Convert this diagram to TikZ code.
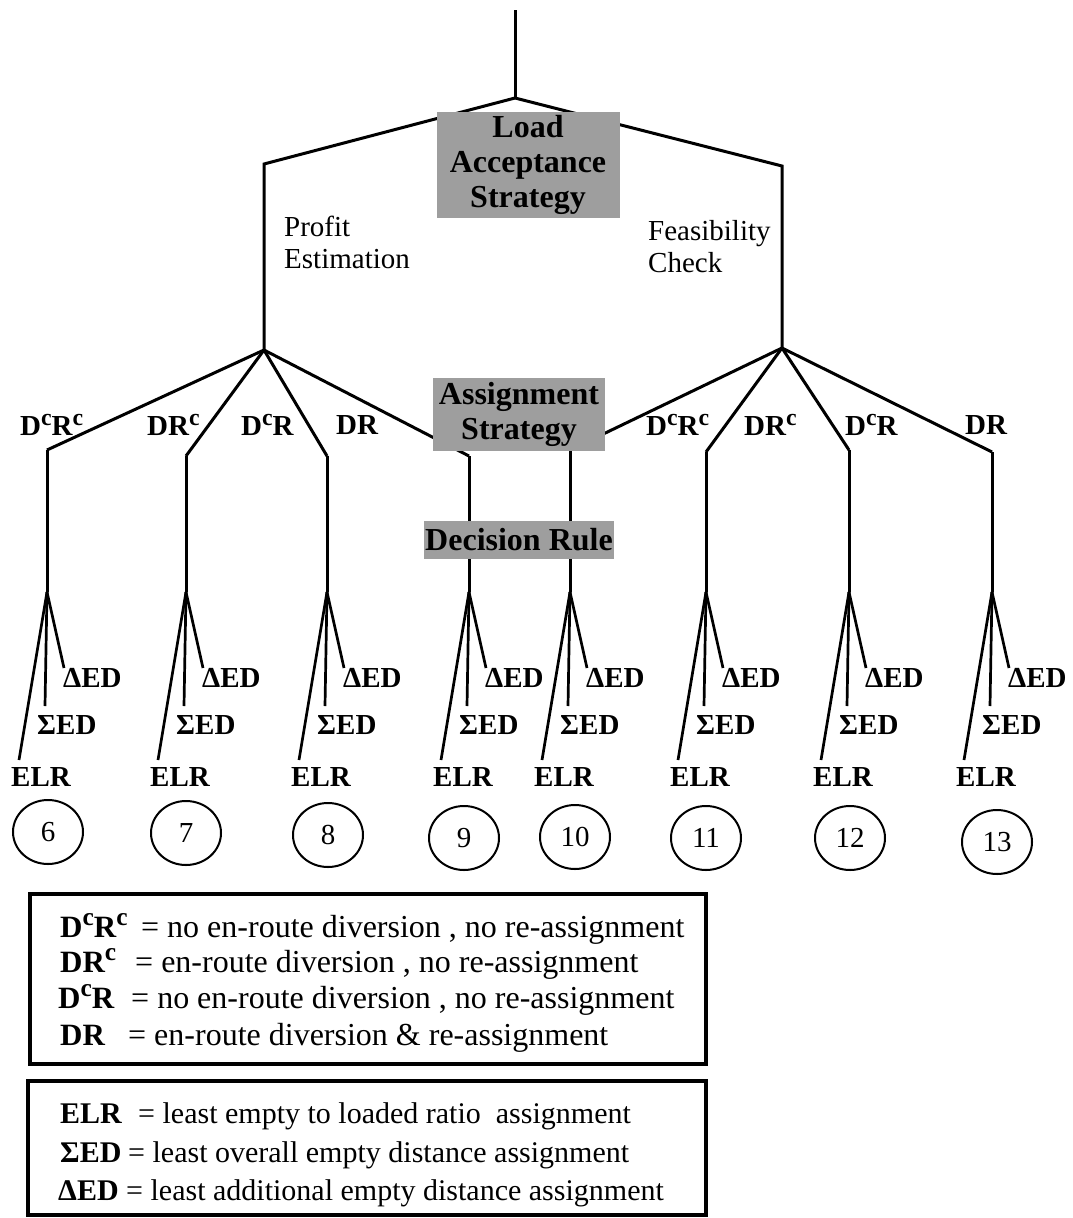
\documentclass[tikz,border=0pt]{standalone}
\usepackage{fontspec}
\usepackage{graphicx}
\setmainfont{Liberation Serif}
\usetikzlibrary{shapes.geometric}
% raised "c" for complement labels
\newcommand\supc{\raisebox{.36em}{\scalebox{.82}{c}}}
\newcommand\fsz[2]{\fontsize{#1}{#2}\selectfont}

\begin{document}
\begin{tikzpicture}[x=1pt,y=-1pt,
  branch/.style={line width=3pt, line join=miter},
  twig/.style={line width=2.7pt},
  greybox/.style={fill=black!38, inner sep=0pt, font=\bfseries\fsz{32}{35}, align=center},
  lbl/.style={inner sep=0pt, font=\fsz{29}{32}, align=left, anchor=north west},
  blbl/.style={inner sep=0pt, font=\bfseries\fsz{29}{32}, anchor=west},
  leaf/.style={draw, ellipse, line width=2pt, minimum width=70pt, minimum height=64pt, inner sep=0pt, font=\fsz{29}{32}},
  legend/.style={draw, line width=3.5pt, inner sep=0pt},
  keyA/.style={inner sep=0pt, anchor=base west, font=\fsz{32}{36}},
  keyAb/.style={inner sep=0pt, anchor=base west, font=\bfseries\fsz{31}{36}},
  keyB/.style={inner sep=0pt, anchor=base west, font=\fsz{30}{36}},
  keyBb/.style={inner sep=0pt, anchor=base west, font=\bfseries\fsz{30}{36}},
]
\useasboundingbox (0,0) rectangle (1073,1218);

% upper tree
\coordinate (top) at (515,10);
\coordinate (hubA) at (515,98);
\coordinate (cL) at (264,164);
\coordinate (cR) at (782,166);
\coordinate (hubL) at (264,350);
\coordinate (hubR) at (782,348);
\draw[branch] (top) -- (hubA);
\draw[branch] (hubA) -- (cL) -- (hubL);
\draw[branch] (hubA) -- (cR) -- (hubR);

% assignment-strategy corners
\coordinate (k6) at (47,450);
\coordinate (k7) at (186,456);
\coordinate (k8) at (327,456);
\coordinate (k9) at (469,456);
\coordinate (k10) at (570,450);
\coordinate (k11) at (706,452);
\coordinate (k12) at (849,450);
\coordinate (k13) at (992,452);
\foreach \n in {6,7,8,9} \draw[branch] (hubL) -- (k\n);
\foreach \n in {10,11,12,13} \draw[branch] (hubR) -- (k\n);

% decision-rule fans and outcome numbers
\foreach \n/\X/\cx/\cy in {6/47/48/832, 7/186/186/833, 8/327/328/835, 9/469/464/838,
                          10/570/575/837, 11/706/706/838, 12/849/850/838, 13/992/997/842} {
  \coordinate (ap\n) at (\X,592);
  \coordinate (e\n) at (\X-28,760);
  \coordinate (s\n) at (\X-2,706);
  \coordinate (d\n) at (\X+17,668);
  \draw[branch] (k\n) -- (ap\n);
  \draw[twig] (ap\n) -- (e\n);
  \draw[twig] (ap\n) -- (s\n);
  \draw[twig] (ap\n) -- (d\n);
  \node[blbl] (elr\n) at (\X-36,777) {ELR};
  \node[blbl] (sed\n) at (\X-10,725) {ΣED};
  \node[blbl] (ded\n) at (\X+16,678) {ΔED};
  \node[leaf] (r\n) at (\cx,\cy) {\n};
}

% grey stage boxes
\node[greybox, minimum width=183pt, minimum height=106pt] (las) at (528,165) {Load\\Acceptance\\Strategy};
\node[greybox, minimum width=172pt, minimum height=73pt] (as) at (519,414) {Assignment\\Strategy};
\node[greybox, minimum width=190pt, minimum height=38pt] (dr) at (519,540) {Decision Rule};

% branch labels
\node[lbl] (pe) at (284,216) {Profit\\Estimation};
\node[lbl] (fc) at (648,220) {Feasibility\\Check};
\node[blbl] (l6) at (20,425) {D\supc R\supc};
\node[blbl] (l7) at (147,425) {DR\supc};
\node[blbl] (l8) at (241,425) {D\supc R};
\node[blbl] (l9) at (336,425) {DR};
\node[blbl] (l10) at (646,425) {D\supc R\supc};
\node[blbl] (l11) at (744,425) {DR\supc};
\node[blbl] (l12) at (845,425) {D\supc R};
\node[blbl] (l13) at (965,425) {DR};

% legend for assignment strategies
\node[legend, minimum width=676pt, minimum height=170pt] (keyone) at (368,979) {};
\node[keyAb] (ka1) at (60,937) {D\supc R\supc};
\node[keyA] (kt1) at (141,937) {= no en-route diversion , no re-assignment};
\node[keyAb] (ka2) at (60,972) {DR\supc};
\node[keyA] (kt2) at (135,972) {= en-route diversion , no re-assignment};
\node[keyAb] (ka3) at (58,1008) {D\supc R};
\node[keyA] (kt3) at (131,1008) {= no en-route diversion , no re-assignment};
\node[keyAb] (ka4) at (60,1045) {DR};
\node[keyA] (kt4) at (128,1045) {= en-route diversion \& re-assignment};

% legend for decision rules
\node[legend, minimum width=678pt, minimum height=134pt] (keytwo) at (367,1148) {};
\node[keyBb] (kb1) at (60,1123) {ELR};
\node[keyB] (ku1) at (138,1123) {= least empty to loaded ratio~ assignment};
\node[keyBb] (kb2) at (60,1162) {ΣED};
\node[keyB] (ku2) at (128,1162) {= least overall empty distance assignment};
\node[keyBb] (kb3) at (58,1200) {ΔED};
\node[keyB] (ku3) at (126,1200) {= least additional empty distance assignment};
\end{tikzpicture}
\end{document}
